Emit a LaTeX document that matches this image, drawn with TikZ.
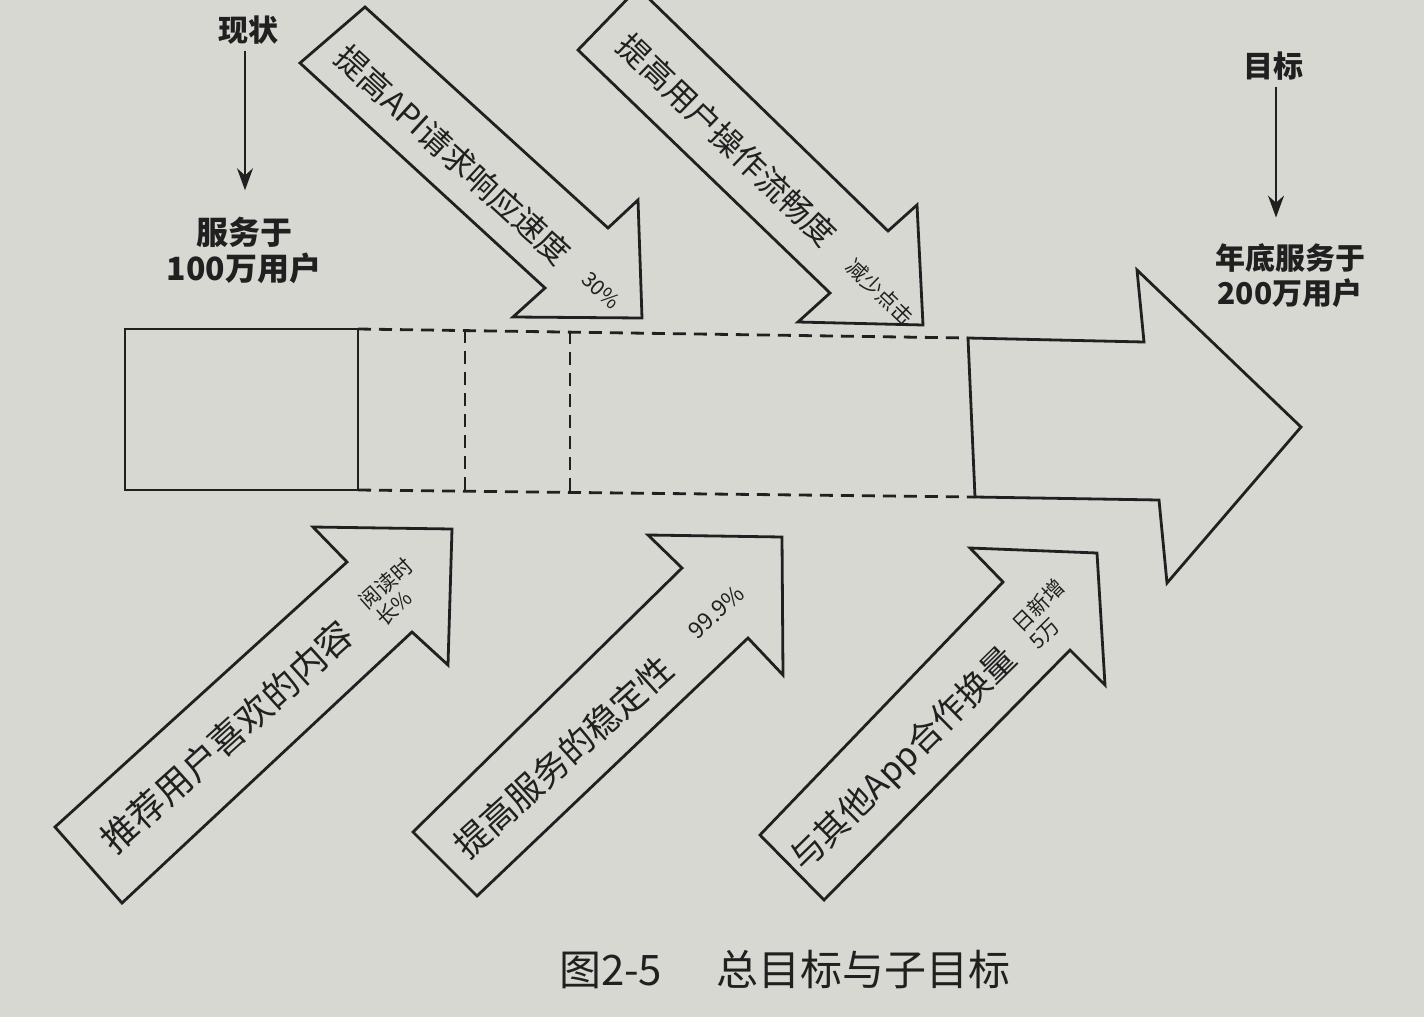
\documentclass[tikz,border=0pt]{standalone}
\usepackage{fontspec}
\setmainfont{Noto Sans CJK SC}
\usetikzlibrary{arrows.meta}
\definecolor{paper}{RGB}{216,216,211}
\definecolor{ink}{RGB}{32,32,32}
\begin{document}
\begin{tikzpicture}[x=0.5pt,y=-0.5pt,
  arrowshape/.style={draw=ink,line width=1.4pt,line join=miter,fill=paper},
  boxline/.style={draw=ink,line width=1.4pt},
  dashline/.style={draw=ink,line width=1.4pt,dash pattern=on 6.5pt off 4pt},
  bigtxt/.style={font=\fontsize{17.5}{20}\selectfont,text=ink,inner sep=0pt},
  midtxt/.style={font=\fontsize{16}{18}\selectfont,text=ink,inner sep=0pt},
  smalltxt/.style={font=\fontsize{10.5}{12}\selectfont,text=ink,inner sep=0pt,align=left},
  lbl/.style={font=\bfseries\fontsize{15}{17.5}\selectfont,text=ink,align=center,inner sep=3pt},
  varrow/.style={draw=ink,line width=1pt,-{Stealth[length=11pt,width=8pt]}}
]
\useasboundingbox (0,0) rectangle (1424,1017);
\clip (0,0) rectangle (1424,1017);
\fill[paper] (0,0) rectangle (1424,1017);

% current state and goal labels
\node[lbl] (xz) at (248,30) {现状};
\node[lbl,font=\bfseries\fontsize{16}{18}\selectfont] (fw) at (244,250) {服务于\\100万用户};
\draw[varrow,shorten >=10pt] (xz.south -| 245,0) -- (245,0 |- fw.north);

\node[lbl] (mb) at (1273,66) {目标};
\node[lbl] (nd) at (1290,276) {年底服务于\\200万用户};
\draw[varrow,shorten >=10pt] (mb.south -| 1276,0) -- (1276,0 |- nd.north);

% present box and dashed extension
\coordinate (b1) at (125,329);
\coordinate (b2) at (358,329);
\coordinate (b3) at (358,490);
\coordinate (b4) at (125,490);
\coordinate (s1) at (968,338);
\coordinate (s4) at (975,497);
\draw[boxline] (b1) -- (b2) -- (b3) -- (b4) -- cycle;
\draw[dashline] (b2) -- (s1);
\draw[dashline] (b3) -- (s4);
\draw[dashline] (465,330) -- (465,491);
\draw[dashline] (570,331) -- (570,492);

% big goal arrow
\draw[arrowshape] (s1) -- (1144,342) -- (1137,270) -- (1301,427)
  -- (1167,583) -- (1159,500) -- (s4) -- cycle;

% top arrows
\draw[arrowshape] (300,63) -- (365,7) -- (608,228) -- (638,200) -- (642,318)
  -- (513,317) -- (545,288) -- cycle;
\node[midtxt,rotate=-42.5] (t1) at (453,155) {提高API请求响应速度};
\node[smalltxt,rotate=-42.5] (t1s) at (601,290) {30\%};

\draw[arrowshape] (578,50) -- (638,-12) -- (888,231) -- (917,205) -- (923,325)
  -- (798,322) -- (830,293) -- cycle;
\node[midtxt,rotate=-44] (t2) at (727,140) {提高用户操作流畅度};
\node[smalltxt,rotate=-44] (t2s) at (880,292) {减少点击};

% bottom arrows
\draw[arrowshape] (55,827) -- (347,562) -- (313,527) -- (452,529) -- (448,665)
  -- (412,632) -- (122,903) -- cycle;
\node[bigtxt,font=\fontsize{18}{20}\selectfont,rotate=42] (t3) at (227,737) {推荐用户喜欢的内容};
\node[smalltxt,rotate=42] (t3s) at (394,592) {阅读时\\长\%};

\draw[arrowshape] (413,832) -- (682,568) -- (648,535) -- (782,537) -- (783,675)
  -- (748,638) -- (477,896) -- cycle;
\node[bigtxt,rotate=42] (t4) at (564,757) {提高服务的稳定性};
\node[smalltxt,font=\fontsize{11.5}{13}\selectfont,rotate=42] (t4s) at (716,612) {99.9\%};

\draw[arrowshape] (760,835) -- (1003,582) -- (970,548) -- (1097,553) -- (1105,685)
  -- (1070,650) -- (824,900) -- cycle;
\node[bigtxt,font=\fontsize{17}{19}\selectfont,rotate=44.5] (t5) at (904,760) {与其他App合作换量};
\node[smalltxt,rotate=44.5] (t5s) at (1047,614) {日新增\\5万};

% caption
\node[font=\fontsize{21}{24}\selectfont,text=ink] (cap) at (785,970) {图2-5\hspace{1.3em}总目标与子目标};
\end{tikzpicture}
\end{document}
